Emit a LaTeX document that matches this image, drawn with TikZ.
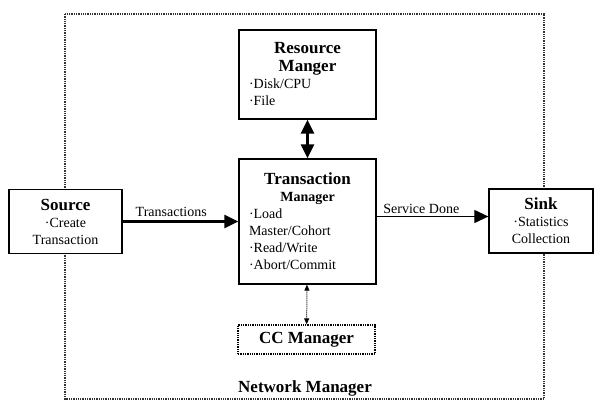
\documentclass[tikz,border=0pt]{standalone}
\usepackage{fontspec}
\setmainfont{Liberation Serif}
\usetikzlibrary{arrows.meta}
\begin{document}
\begin{tikzpicture}[x=1pt,y=-1pt,
	box/.style={draw, line width=1.3pt, fill=white, inner xsep=10pt, inner ysep=0pt, font=\fontsize{14}{17}\selectfont},
	lbl/.style={font=\fontsize{14}{17}\selectfont, inner sep=1pt},
	bigtip/.tip={Triangle[length=14pt,width=13pt]},
	smalltip/.tip={Triangle[length=6pt,width=5pt]}]
	\useasboundingbox (0,0) rectangle (600,401);

	% Network Manager (gestippelde rand)
	\draw[line width=1.3pt, densely dotted, black!80] (65,14) rectangle (544,399);
	\node[font=\fontsize{17}{17}\selectfont\bfseries] (nm) at (305,388) {Network Manager};

	% Resource Manager
	\node[box, minimum width=137pt, minimum height=89pt, text width=117pt, align=left] (rm) at (307.5,74.5)
		{{\centering\fontsize{17}{18}\selectfont\bfseries Resource\\Manger\par}\textperiodcentered Disk/CPU\\\textperiodcentered File};

	% Transaction Manager
	\node[box, minimum width=137pt, minimum height=125pt, text width=117pt, align=left] (tm) at (307.5,221.5)
		{{\centering\fontsize{17}{18}\selectfont\bfseries Transaction\\\fontsize{14}{17}\selectfont Manager\par}\textperiodcentered Load\\Master/Cohort\\\textperiodcentered Read/Write\\\textperiodcentered Abort/Commit};

	% Source en Sink
	\node[box, minimum width=113pt, minimum height=64pt, align=center] (src) at (65.5,221.5)
		{{\fontsize{17}{17}\selectfont\bfseries Source}\\\textperiodcentered Create\\Transaction};
	\node[box, minimum width=104pt, minimum height=64pt, align=center] (sink) at (541,221)
		{{\fontsize{17}{17}\selectfont\bfseries Sink}\\\textperiodcentered Statistics\\Collection};

	% CC Manager
	\node[draw, densely dotted, line width=1.3pt, minimum width=137pt, minimum height=29pt,
		font=\fontsize{17}{17}\selectfont\bfseries] (cc) at (306.5,339.5) {CC Manager};

	% Verbindingen
	\draw[line width=2.5pt, -bigtip] (src.east) -- (tm.west)
		node[lbl, pos=0.42, above=3pt] {Transactions};
	\draw[line width=1.2pt, -bigtip] ([yshift=5pt]tm.east) -- ([yshift=5pt]tm.east -| sink.west)
		node[lbl, pos=0.4, above=1pt] {Service Done};
	\draw[line width=2.5pt, bigtip-bigtip] (rm) -- (tm);
	\draw[line width=1pt, densely dotted, smalltip-smalltip] (tm) -- (cc);
\end{tikzpicture}
\end{document}
